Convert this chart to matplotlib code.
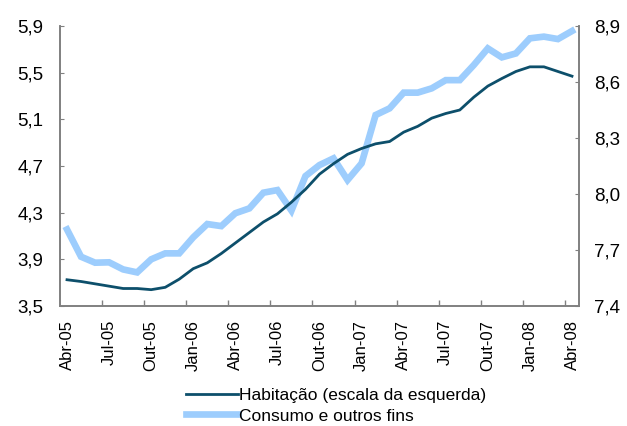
import numpy as np
import matplotlib
matplotlib.use("Agg")
import matplotlib.pyplot as plt
from matplotlib.ticker import FixedLocator, FuncFormatter

plt.rcParams['font.family'] = ['Liberation Sans', 'DejaVu Sans']

# monthly series, Abr-05 .. Abr-08
habitacao = [3.725, 3.71, 3.69, 3.67, 3.65, 3.65, 3.64, 3.66, 3.73, 3.82,
             3.87, 3.95, 4.04, 4.13, 4.22, 4.29, 4.39, 4.50, 4.63, 4.72,
             4.80, 4.85, 4.89, 4.91, 4.99, 5.04, 5.11, 5.15, 5.18, 5.29,
             5.385, 5.45, 5.51, 5.55, 5.55, 5.51, 5.47]
consumo = [7.81, 7.664, 7.632, 7.634, 7.596, 7.58, 7.65, 7.682, 7.682, 7.768,
           7.839, 7.828, 7.897, 7.923, 8.007, 8.021, 7.911, 8.096, 8.155, 8.191,
           8.075, 8.164, 8.423, 8.459, 8.543, 8.543, 8.566, 8.61, 8.61, 8.691,
           8.78, 8.732, 8.753, 8.834, 8.843, 8.83, 8.873]
tick_labels = ['Abr-05', 'Jul-05', 'Out-05', 'Jan-06', 'Abr-06', 'Jul-06', 'Out-06',
               'Jan-07', 'Abr-07', 'Jul-07', 'Out-07', 'Jan-08', 'Abr-08']
left_ticks = [3.5, 3.9, 4.3, 4.7, 5.1, 5.5, 5.9]
right_ticks = [7.4, 7.7, 8.0, 8.3, 8.6, 8.9]

dark = '#0d4f6b'
light = '#9dcdfd'
spine_col = '#808080'

x = np.arange(len(habitacao))

fig = plt.figure(figsize=(6.27, 4.26), dpi=100)
ax = fig.add_axes([60/627, 1-306/426, (579-60)/627, (306-26)/426])
ax2 = ax.twinx()

ax2.plot(x, consumo, color=light, lw=4.8, solid_joinstyle='miter', label='Consumo e outros fins')
ax.plot(x, habitacao, color=dark, lw=2.0, label='Habitação (escala da esquerda)')
ax.set_zorder(ax2.get_zorder() + 1)
ax.patch.set_visible(False)

ax.set_xlim(-0.5, len(x) - 0.5)
ax.set_ylim(3.5, 5.9)
ax2.set_ylim(7.4, 8.9)

comma = FuncFormatter(lambda v, p: f'{v:.1f}'.replace('.', ','))
ax.yaxis.set_major_locator(FixedLocator(left_ticks))
ax.yaxis.set_major_formatter(comma)
ax2.yaxis.set_major_locator(FixedLocator(right_ticks))
ax2.yaxis.set_major_formatter(comma)

ax.set_xticks(np.arange(0, len(x), 3))
ax.set_xticklabels(tick_labels, rotation=90)
ax.set_xticks(np.arange(2.5, len(x), 3), minor=True)
ax.tick_params(axis='x', which='major', length=0, pad=10, labelsize=12)
ax.tick_params(axis='x', which='minor', direction='in', length=4.5, color=spine_col, width=1)
ax.tick_params(axis='y', direction='in', length=3, color=spine_col, pad=12, labelsize=13.5)
ax2.tick_params(axis='y', direction='in', length=3, color=spine_col, pad=11, labelsize=13.5)

for a in (ax, ax2):
    a.spines['top'].set_visible(False)
    for s in ('left', 'right', 'bottom'):
        a.spines[s].set_color(spine_col)
        a.spines[s].set_linewidth(1.2)

h1, l1 = ax.get_legend_handles_labels()
h2, l2 = ax2.get_legend_handles_labels()
fig.legend(h1 + h2, l1 + l2, loc='upper left', bbox_to_anchor=(186/627, 1-388/426),
           frameon=False, fontsize=12.5, handlelength=3.0, handletextpad=0.05,
           borderpad=0, borderaxespad=0, labelspacing=0.3)

fig.savefig('out.png', dpi=100)
